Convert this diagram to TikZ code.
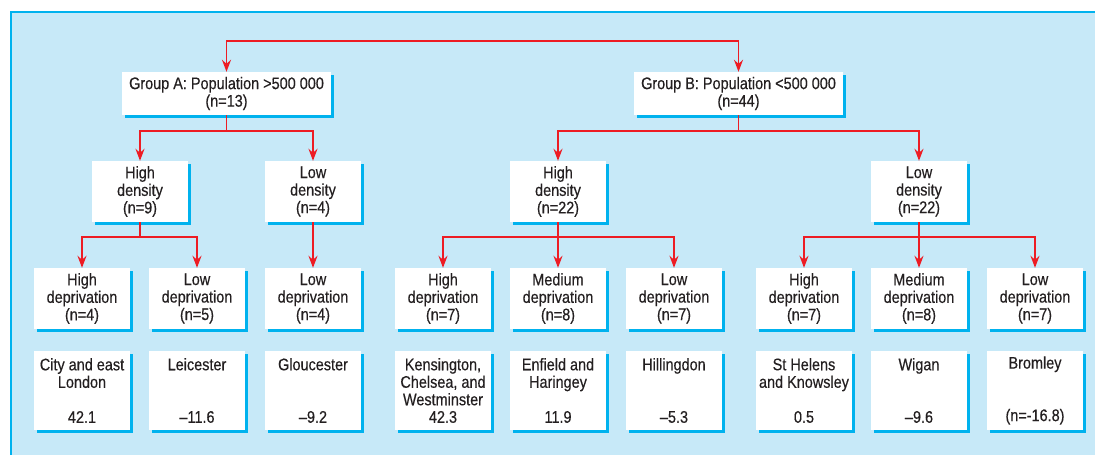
\documentclass[tikz,border=0pt]{standalone}
\usepackage{fontspec}
\setmainfont[FakeStretch=0.86,FakeBold=0.35]{Liberation Sans}
\usetikzlibrary{arrows.meta,shadows}
\definecolor{panelblue}{HTML}{C7E9F8}
\definecolor{edgecyan}{HTML}{00B2EE}
\definecolor{linkred}{HTML}{ED1C24}
\definecolor{inkgrey}{HTML}{231F20}
\tikzset{
    box/.style={fill=white, inner sep=0pt, align=center, text=inkgrey,
        font=\fontsize{16.8}{17.5}\selectfont,
        general shadow={fill=edgecyan, shadow xshift=3pt, shadow yshift=-3pt}},
    grpbox/.style={box, minimum width=209pt, minimum height=43pt},
    midbox/.style={box, minimum width=96pt, minimum height=61pt},
    areabox/.style={box, minimum width=96pt, minimum height=79pt},
    link/.style={draw=linkred, line width=1.6pt},
    arr/.style={link, -{Stealth[length=12pt,width=9pt,inset=4pt]}}
}

\begin{document}
\begin{tikzpicture}[x=1pt,y=-1pt]
    \useasboundingbox (0,0) rectangle (1095,455);
    \fill[panelblue] (11,12) rectangle (1095,455);
    \draw[edgecyan, line width=1.5pt] (11,455) -- (11,12) -- (1095,12);

    \node[grpbox] (A) at (226.5,93.5) {Group A: Population >500 000\\(n=13)};
    \node[grpbox] (B) at (738.5,93.5) {Group B: Population <500 000\\(n=44)};

    \node[midbox] (AH) at (140,191.5) {High\\density\\(n=9)};
    \node[midbox] (AL) at (313,191.5) {Low\\density\\(n=4)};
    \node[midbox] (BH) at (558,191.5) {High\\density\\(n=22)};
    \node[midbox] (BL) at (919,191.5) {Low\\density\\(n=22)};

    \node[midbox] (AHH) at (82,298.5) {High\\deprivation\\(n=4)};
    \node[midbox] (AHL) at (197,298.5) {Low\\deprivation\\(n=5)};
    \node[midbox] (ALL) at (313,298.5) {Low\\deprivation\\(n=4)};
    \node[midbox] (BHH) at (443,298.5) {High\\deprivation\\(n=7)};
    \node[midbox] (BHM) at (558,298.5) {Medium\\deprivation\\(n=8)};
    \node[midbox] (BHL) at (674,298.5) {Low\\deprivation\\(n=7)};
    \node[midbox] (BLH) at (804,298.5) {High\\deprivation\\(n=7)};
    \node[midbox] (BLM) at (919,298.5) {Medium\\deprivation\\(n=8)};
    \node[midbox] (BLL) at (1035,298.5) {Low\\deprivation\\(n=7)};

    \node[areabox] (AHHa) at (82,390.5) {City and east\\London\\~\\42.1};
    \node[areabox] (AHLa) at (197,390.5) {Leicester\\~\\~\\--11.6};
    \node[areabox] (ALLa) at (313,390.5) {Gloucester\\~\\~\\--9.2};
    \node[areabox] (BHHa) at (443,390.5) {Kensington,\\Chelsea, and\\Westminster\\42.3};
    \node[areabox] (BHMa) at (558,390.5) {Enfield and\\Haringey\\~\\11.9};
    \node[areabox] (BHLa) at (674,390.5) {Hillingdon\\~\\~\\--5.3};
    \node[areabox] (BLHa) at (804,390.5) {St Helens\\and Knowsley\\~\\0.5};
    \node[areabox] (BLMa) at (919,390.5) {Wigan\\~\\~\\--9.6};
    \node[areabox] (BLLa) at (1035,390.5) {Bromley\\~\\~\\(n=-16.8)};

    \coordinate (top) at (482,41);
    \coordinate (aSplit) at (226.5,131);
    \coordinate (bSplit) at (738.5,131);
    \coordinate (ahSplit) at (140,237);
    \coordinate (bhSplit) at (558,237);
    \coordinate (blSplit) at (919,237);

    \draw[arr] (top) -| (A);
    \draw[arr] (top) -| (B);
    \draw[link] (A) -- (aSplit);
    \draw[arr] (aSplit) -| (AH);
    \draw[arr] (aSplit) -| (AL);
    \draw[link] (B) -- (bSplit);
    \draw[arr] (bSplit) -| (BH);
    \draw[arr] (bSplit) -| (BL);
    \draw[link] (AH) -- (ahSplit);
    \draw[arr] (ahSplit) -| (AHH);
    \draw[arr] (ahSplit) -| (AHL);
    \draw[arr] (AL) -- (ALL);
    \draw[link] (BH) -- (bhSplit);
    \draw[arr] (bhSplit) -| (BHH);
    \draw[arr] (bhSplit) -- (BHM);
    \draw[arr] (bhSplit) -| (BHL);
    \draw[link] (BL) -- (blSplit);
    \draw[arr] (blSplit) -| (BLH);
    \draw[arr] (blSplit) -- (BLM);
    \draw[arr] (blSplit) -| (BLL);
\end{tikzpicture}
\end{document}
